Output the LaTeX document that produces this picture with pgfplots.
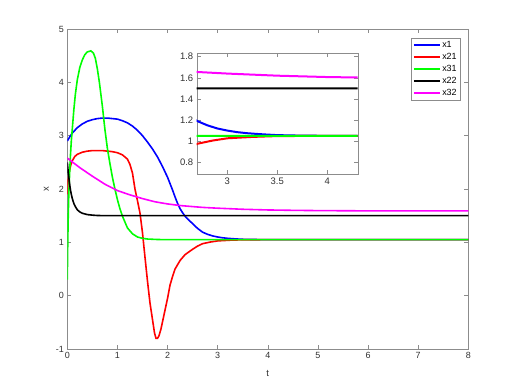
\documentclass[border=0pt]{standalone}
\usepackage{fontspec}
\setmainfont{Liberation Sans}
\usepackage{pgfplots}
\usepackage{pgfplotstable}
\pgfplotsset{compat=1.18}

\definecolor{axgray}{RGB}{140,140,140}
\definecolor{txtgray}{RGB}{50,50,50}
\definecolor{cblue}{RGB}{0,0,255}
\definecolor{cred}{RGB}{255,0,0}
\definecolor{cgreen}{RGB}{0,255,0}
\definecolor{cmag}{RGB}{255,0,255}

% x1
\pgfplotstableread{
t y
0 2.90
0.05 2.98
0.1 3.05
0.2 3.15
0.3 3.22
0.4 3.27
0.5 3.30
0.6 3.32
0.7 3.33
0.8 3.33
0.9 3.32
1.0 3.31
1.1 3.28
1.2 3.24
1.3 3.18
1.4 3.10
1.5 3.00
1.6 2.88
1.7 2.75
1.8 2.60
1.9 2.42
2.0 2.22
2.1 1.98
2.15 1.85
2.2 1.73
2.25 1.63
2.3 1.555
2.35 1.49
2.4 1.44
2.5 1.35
2.6 1.26
2.7 1.19
2.8 1.15
2.9 1.12
3.0 1.10
3.1 1.085
3.2 1.075
3.3 1.068
3.4 1.062
3.5 1.057
3.7 1.053
4.0 1.05
8 1.05
}\xone

% x21
\pgfplotstableread{
t y
0 1.90
0.01 2.05
0.02 2.18
0.04 2.33
0.07 2.45
0.1 2.53
0.15 2.61
0.2 2.65
0.3 2.69
0.4 2.71
0.5 2.72
0.7 2.72
0.9 2.70
1.0 2.68
1.1 2.64
1.2 2.56
1.25 2.46
1.3 2.30
1.35 2.00
1.4 1.78
1.45 1.55
1.5 1.18
1.55 0.72
1.6 0.27
1.65 -0.14
1.7 -0.45
1.74 -0.70
1.77 -0.80
1.8 -0.80
1.83 -0.75
1.87 -0.62
1.92 -0.40
2.0 -0.05
2.05 0.20
2.1 0.36
2.15 0.50
2.25 0.66
2.35 0.77
2.5 0.87
2.6 0.93
2.7 0.975
2.85 1.005
3.0 1.027
3.25 1.04
3.5 1.048
4 1.05
8 1.05
}\xtwoone

% x31
\pgfplotstableread{
t y
0 0.30
0.005 0.70
0.01 1.05
0.02 1.55
0.03 1.90
0.04 2.15
0.06 2.58
0.08 2.90
0.1 3.13
0.13 3.48
0.16 3.77
0.2 4.05
0.25 4.28
0.3 4.42
0.35 4.52
0.4 4.57
0.47 4.59
0.52 4.55
0.56 4.45
0.6 4.25
0.64 4.00
0.7 3.55
0.75 3.12
0.8 2.76
0.85 2.48
0.9 2.22
0.95 2.00
1.0 1.80
1.05 1.63
1.1 1.49
1.15 1.38
1.2 1.27
1.3 1.16
1.4 1.10
1.5 1.075
1.6 1.062
1.8 1.053
2.0 1.05
8 1.05
}\xthreeone

% x22
\pgfplotstableread{
t y
0 2.50
0.02 2.30
0.04 2.14
0.06 2.00
0.08 1.90
0.1 1.82
0.13 1.73
0.16 1.67
0.2 1.61
0.25 1.57
0.3 1.545
0.4 1.52
0.5 1.51
0.6 1.503
0.8 1.50
8 1.50
}\xtwotwo

% x32
\pgfplotstableread{
t y
0 2.58
0.25 2.40
0.5 2.24
0.75 2.09
1.0 1.97
1.25 1.89
1.5 1.82
1.75 1.76
2.0 1.72
2.25 1.69
2.5 1.67
2.7 1.655
3.0 1.64
3.5 1.62
4.0 1.607
4.5 1.60
5.0 1.595
6.0 1.59
8.0 1.59
}\xthreetwo

\pgfplotsset{
  mystyle/.style={
    scale only axis,
    axis line style={axgray},
    tick style={axgray, line width=0.5bp},
    major tick length=4bp,
    tick align=inside,
    tick label style={color=txtgray},
    /pgf/number format/assume math mode=true,
  },
}

\begin{document}
\begin{tikzpicture}
\path (0bp,0bp) rectangle (518bp,392bp);
\begin{axis}[
  mystyle,
  at={(67.3bp,43bp)}, anchor=south west,
  width=401bp, height=320bp,
  xmin=0, xmax=8, ymin=-1, ymax=5,
  xtick={0,1,...,8}, ytick={-1,0,...,5},
  tick label style={font=\fontsize{9}{10}\selectfont},
  xlabel={t}, ylabel={x},
  label style={font=\fontsize{9.5}{10}\selectfont, color=txtgray},
  xlabel style={at={(axis description cs:0.5,-0.075)}, anchor=center},
  ylabel style={at={(axis description cs:-0.052,0.5)}, anchor=center},
  legend style={at={(0.856,0.972)}, anchor=north west, draw=axgray,
    font=\fontsize{9}{10}\selectfont, inner xsep=2bp, inner ysep=1bp,
    row sep=0bp, nodes={inner sep=1.5bp, text height=7bp, text depth=2bp}},
  legend cell align=left,
  legend image code/.code={\draw[#1, line width=2bp] (0bp,0bp) -- (26bp,0bp);},
  every axis plot/.append style={line width=1.6bp},
]
\addplot[cblue] table {\xone};
\addlegendentry{x1}
\addplot[cred] table {\xtwoone};
\addlegendentry{x21}
\addplot[cgreen] table {\xthreeone};
\addlegendentry{x31}
\addplot[black] table {\xtwotwo};
\addlegendentry{x22}
\addplot[cmag] table {\xthreetwo};
\addlegendentry{x32}
\end{axis}

\begin{axis}[
  mystyle,
  at={(196.7bp,217.7bp)}, anchor=south west,
  width=161bp, height=121bp,
  xmin=2.694, xmax=4.304, ymin=0.686, ymax=1.832,
  xtick={3,3.5,4}, ytick={0.8,1,1.2,1.4,1.6,1.8},
  tick label style={font=\fontsize{9.5}{11}\selectfont},
  axis background/.style={fill=white},
  every axis plot/.append style={line width=2bp},
]
\addplot[cblue] table {\xone};
\addplot[cred] table {\xtwoone};
\addplot[cgreen] table {\xthreeone};
\addplot[black] table {\xtwotwo};
\addplot[cmag] table {\xthreetwo};
\end{axis}
\end{tikzpicture}
\end{document}
